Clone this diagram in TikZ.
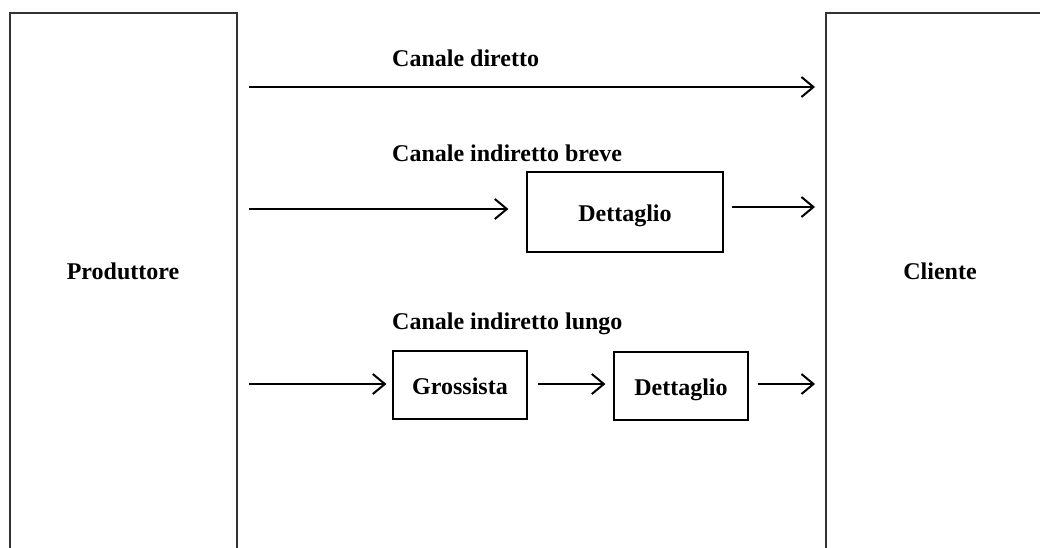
\documentclass[tikz,border=0pt]{standalone}
\usepackage{fontspec}
\setmainfont{Liberation Serif}
\usetikzlibrary{arrows.meta}
\newcommand\larg{1040}
\newcommand\alt{547}
\newcommand\gap{18}

\tikzset{
	canale/.style={-{Straight Barb[length=12pt,width=20pt,line width=2pt]},line width=1.9pt},
	scatola/.style={draw,line width=1.2pt,inner sep=0pt,text height=18pt,text depth=0pt,font=\bfseries\fontsize{24}{28}\selectfont},
	testo/.style={inner sep=0pt,font=\bfseries\fontsize{24}{28}\selectfont},
}

\begin{document}
\begin{tikzpicture}[x=1pt,y=-1pt]
\useasboundingbox (0,0) rectangle (\larg,\alt);
\clip (0,0) rectangle (\larg,\alt);
% produttore e cliente
\draw [line width=1.6pt,draw=black!80](10,13) rectangle (237,\alt+40);
\draw [line width=1.6pt,draw=black!80](826,13) rectangle (\larg+40,\alt+40);
\node [testo] (prod) at (123,271) {Produttore};
\node [testo] (cli) at (940,271) {Cliente};
% etichette dei canali
\node [testo,anchor=west] (diretto) at (392,58) {Canale diretto};
\node [testo,anchor=west] (breve) at (392,153) {Canale indiretto breve};
\node [testo,anchor=west] (lungo) at (392,324) {Canale indiretto lungo};
% intermediari
\node [scatola,minimum width=196pt,minimum height=80pt] (det1) at (625,212) {Dettaglio};
\node [scatola,minimum width=134pt,minimum height=68pt] (gros) at (460,385) {Grossista};
\node [scatola,minimum width=134pt,minimum height=68pt] (det2) at (681,386) {Dettaglio};
% estremi delle frecce
\coordinate (s1) at (249,87);
\coordinate (e1) at (815,87);
\coordinate (s2) at (249,209);
\coordinate (e2) at (815,207);
\coordinate (s3) at (249,384);
\coordinate (e3) at (815,384);
\draw [canale](s1) -- (e1);
\draw [canale](s2) -- ([xshift=-\gap]det1.west |- s2);
\draw [canale]([xshift=8]det1.east |- e2) -- (e2);
\draw [canale](s3) -- ([xshift=-6]gros.west |- s3);
\draw [canale]([xshift=10]gros.east |- s3) -- ([xshift=-8]det2.west |- s3);
\draw [canale]([xshift=9]det2.east |- e3) -- (e3);
\end{tikzpicture}
\end{document}
